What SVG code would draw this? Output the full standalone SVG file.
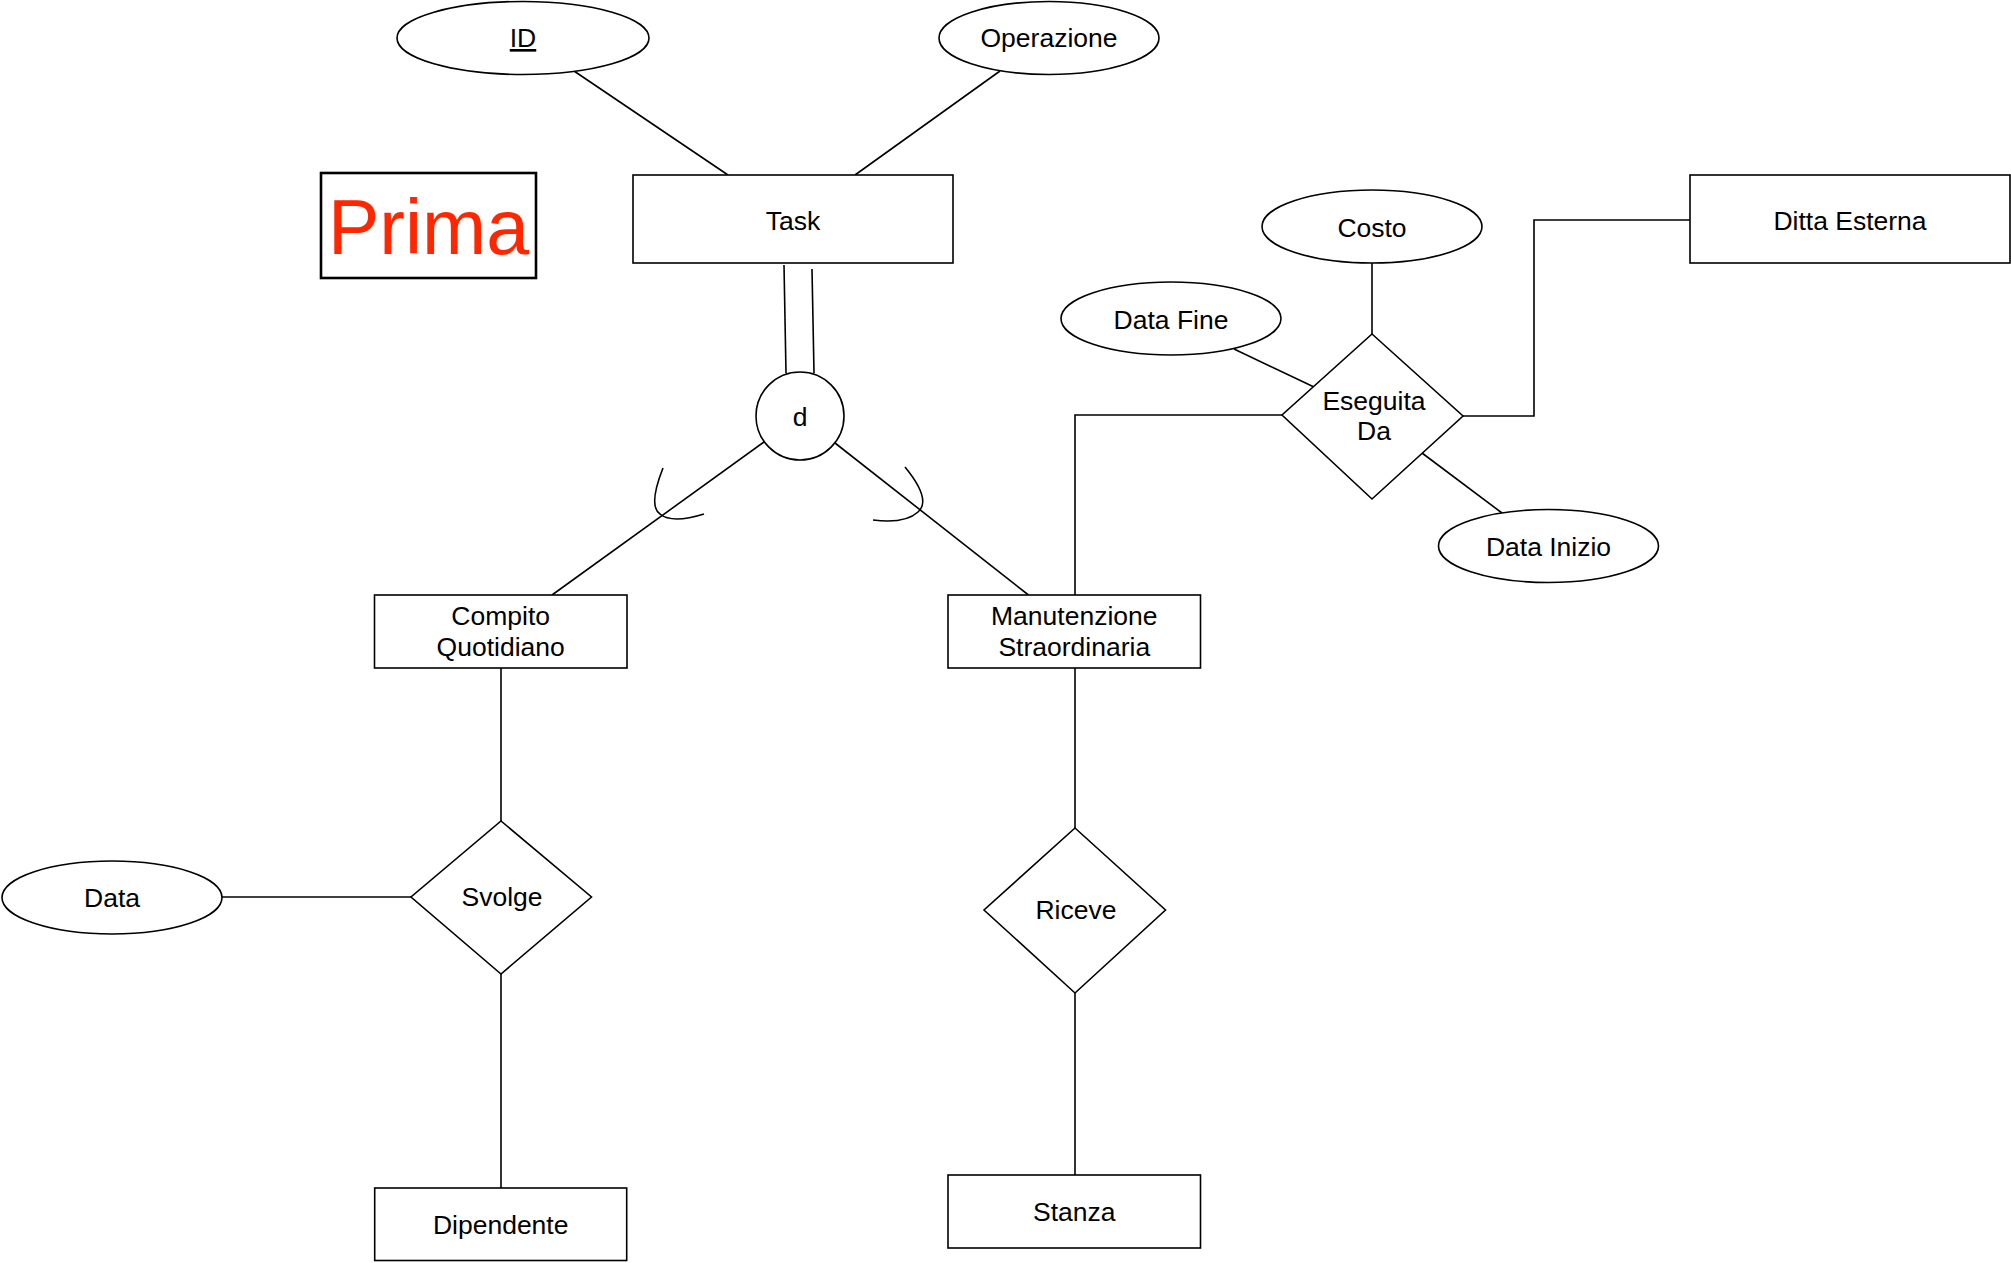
<svg xmlns="http://www.w3.org/2000/svg" width="2011" height="1263" viewBox="0 0 2011 1263">
<style>
  .shape { fill: #ffffff; stroke: #000000; stroke-width: 1.6; }
  .conn { fill: none; stroke: #000000; stroke-width: 1.6; }
  .lbl { font-family: "Liberation Sans", Arial, Helvetica, sans-serif; font-size: 26.5px; fill: #000000; text-anchor: middle; }
  .prima { font-family: "Liberation Sans", Arial, Helvetica, sans-serif; font-size: 77px; fill: #ff2600; text-anchor: middle; }
</style>
<rect width="2011" height="1263" fill="#ffffff"/>

<g id="connectors">
  <line class="conn" x1="574" y1="71" x2="728" y2="175"/>
  <line class="conn" x1="1000" y1="71" x2="855" y2="175"/>
  <line class="conn" x1="784" y1="265" x2="786" y2="373"/>
  <line class="conn" x1="812" y1="269" x2="814" y2="373"/>
  <line class="conn" x1="764" y1="442" x2="552" y2="595"/>
  <line class="conn" x1="835" y1="443" x2="1028.5" y2="595"/>
  <path class="conn" d="M663,468 Q648,506 660,514 Q672,524 704,514"/>
  <path class="conn" d="M905,467 Q932,500 918,512 Q905,524 873,520"/>
  <line class="conn" x1="1372" y1="263" x2="1372" y2="334"/>
  <line class="conn" x1="1234" y1="349" x2="1314" y2="387"/>
  <line class="conn" x1="1422" y1="453" x2="1502" y2="513"/>
  <polyline class="conn" points="1463,416 1534,416 1534,220 1690,220"/>
  <polyline class="conn" points="1282,415 1075,415 1075,595"/>
  <line class="conn" x1="501" y1="668" x2="501" y2="821"/>
  <line class="conn" x1="222" y1="897" x2="411" y2="897"/>
  <line class="conn" x1="501" y1="974" x2="501" y2="1188"/>
  <line class="conn" x1="1075" y1="668" x2="1075" y2="828"/>
  <line class="conn" x1="1075" y1="993" x2="1075" y2="1175"/>
</g>

<g id="prima">
  <rect x="321" y="173" width="215" height="105" fill="#ffffff" stroke="#000000" stroke-width="2.6"/>
  <text class="prima" x="428.5" y="254">Prima</text>
</g>

<g id="attr-id">
  <ellipse class="shape" cx="523" cy="38" rx="126" ry="36.5"/>
  <text class="lbl" x="523" y="47" text-decoration="underline">ID</text>
</g>

<g id="attr-operazione">
  <ellipse class="shape" cx="1049" cy="38" rx="110" ry="36.5"/>
  <text class="lbl" x="1049" y="47">Operazione</text>
</g>

<g id="task">
  <rect class="shape" x="633" y="175" width="320" height="88"/>
  <text class="lbl" x="793" y="230">Task</text>
</g>

<g id="disjoint">
  <circle class="shape" cx="800" cy="416" r="44"/>
  <text class="lbl" x="800" y="426">d</text>
</g>

<g id="compito-quotidiano">
  <rect class="shape" x="374.5" y="595" width="252.5" height="73"/>
  <text class="lbl" x="500.7" y="625">Compito</text>
  <text class="lbl" x="500.7" y="656">Quotidiano</text>
</g>

<g id="manutenzione-straordinaria">
  <rect class="shape" x="948" y="595" width="252.5" height="73"/>
  <text class="lbl" x="1074.3" y="625">Manutenzione</text>
  <text class="lbl" x="1074.3" y="656">Straordinaria</text>
</g>

<g id="attr-costo">
  <ellipse class="shape" cx="1372" cy="226.5" rx="110" ry="36.5"/>
  <text class="lbl" x="1372" y="237">Costo</text>
</g>

<g id="attr-data-fine">
  <ellipse class="shape" cx="1171" cy="318.5" rx="110" ry="36.5"/>
  <text class="lbl" x="1171" y="329">Data Fine</text>
</g>

<g id="eseguita-da">
  <polygon class="shape" points="1372,334 1463,416 1372,499 1282,415"/>
  <text class="lbl" x="1374" y="410">Eseguita</text>
  <text class="lbl" x="1374" y="440">Da</text>
</g>

<g id="attr-data-inizio">
  <ellipse class="shape" cx="1548.5" cy="546" rx="110" ry="36.5"/>
  <text class="lbl" x="1548.5" y="556">Data Inizio</text>
</g>

<g id="ditta-esterna">
  <rect class="shape" x="1690" y="175" width="320" height="88"/>
  <text class="lbl" x="1850" y="230">Ditta Esterna</text>
</g>

<g id="attr-data">
  <ellipse class="shape" cx="112" cy="897.5" rx="110" ry="36.5"/>
  <text class="lbl" x="112" y="907">Data</text>
</g>

<g id="svolge">
  <polygon class="shape" points="501,821 591.5,897 501,974 411,897"/>
  <text class="lbl" x="502" y="906">Svolge</text>
</g>

<g id="dipendente">
  <rect class="shape" x="374.7" y="1188" width="252" height="72.5"/>
  <text class="lbl" x="500.7" y="1234">Dipendente</text>
</g>

<g id="riceve">
  <polygon class="shape" points="1075,828 1165.5,910 1075,993 984,910"/>
  <text class="lbl" x="1076" y="919">Riceve</text>
</g>

<g id="stanza">
  <rect class="shape" x="948" y="1175" width="252.5" height="73"/>
  <text class="lbl" x="1074.3" y="1221">Stanza</text>
</g>
</svg>
